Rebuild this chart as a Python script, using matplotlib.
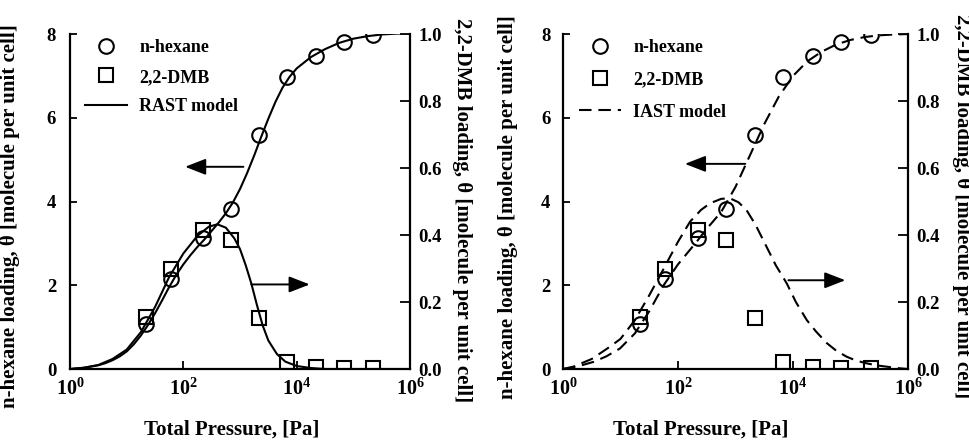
import numpy as np
import matplotlib
matplotlib.use("Agg")
import matplotlib.pyplot as plt
from matplotlib.ticker import FixedLocator, NullLocator

plt.rcParams['font.family'] = ['Liberation Serif', 'DejaVu Serif']
plt.rcParams['font.weight'] = 'bold'
plt.rcParams['mathtext.fontset'] = 'custom'
plt.rcParams['mathtext.rm'] = 'Liberation Serif:bold'
plt.rcParams['mathtext.bf'] = 'Liberation Serif:bold'
plt.rcParams['mathtext.it'] = 'Liberation Serif:bold:italic'

# measured points (same in both panels)
pressure = [22, 60, 220, 690, 2200, 6800, 22000, 68000, 225000]
hexane = [1.07, 2.15, 3.12, 3.82, 5.6, 6.97, 7.47, 7.82, 7.97]
dmb = [0.155, 0.30, 0.415, 0.385, 0.152, 0.021, 0.007, 0.003, 0.002]

# model curves, x given as log10(P)
rast_hex_logp = [0, 0.25, 0.5, 0.625, 0.75, 0.875, 1.0, 1.125, 1.25, 1.375, 1.5, 1.625,
                 1.75, 1.875, 2.0, 2.125, 2.25, 2.375, 2.5, 2.625, 2.75, 2.875, 3.0,
                 3.125, 3.25, 3.375, 3.5, 3.625, 3.75, 3.875, 4.0, 4.25, 4.5, 4.75,
                 5.0, 5.25, 5.5, 5.75, 6.0]
rast_hex = [0.0, 0.03, 0.09, 0.14, 0.21, 0.3, 0.42, 0.59, 0.8, 1.05, 1.33, 1.64,
            1.96, 2.25, 2.5, 2.72, 2.92, 3.1, 3.3, 3.5, 3.72, 3.98, 4.3,
            4.68, 5.1, 5.55, 5.98, 6.38, 6.72, 6.98, 7.18, 7.45, 7.64, 7.79,
            7.89, 7.95, 7.99, 8.01, 8.02]

rast_dmb_logp = [0, 0.25, 0.5, 0.75, 1.0, 1.25, 1.5, 1.75, 2.0, 2.25, 2.45, 2.6, 2.75,
                 2.9, 3.0, 3.1, 3.2, 3.3, 3.4, 3.5, 3.65, 3.8, 4.0, 4.25, 4.5, 5.0, 6.0]
rast_dmb = [0.0, 0.004, 0.012, 0.03, 0.058, 0.11, 0.185, 0.275, 0.345, 0.398, 0.425, 0.432,
            0.422, 0.39, 0.358, 0.31, 0.255, 0.19, 0.13, 0.085, 0.045, 0.022, 0.009, 0.003,
            0.0, 0.0, 0.0]

iast_hex_logp = [0, 0.25, 0.53, 0.75, 0.99, 1.25, 1.5, 1.75, 2.0, 2.33, 2.5, 2.75, 3.0,
                 3.25, 3.5, 3.75, 4.0, 4.25, 4.5, 4.75, 5.0, 5.25, 5.5, 5.75, 6.0]
iast_hex = [0.0, 0.06, 0.17, 0.3, 0.49, 0.85, 1.38, 2.0, 2.5, 3.05, 3.35, 3.75, 4.35,
            5.1, 5.85, 6.5, 7.0, 7.35, 7.58, 7.75, 7.86, 7.93, 7.97, 7.99, 8.0]

iast_dmb_logp = [0, 0.18, 0.5, 0.82, 1.0, 1.25, 1.5, 1.74, 2.0, 2.21, 2.4, 2.56, 2.75,
                 2.9, 3.05, 3.19, 3.35, 3.54, 3.7, 3.89, 4.05, 4.24, 4.4, 4.59, 4.75,
                 4.93, 5.1, 5.28, 5.45, 5.63, 5.8, 6.0]
iast_dmb = [0.0, 0.007, 0.03, 0.067, 0.09, 0.146, 0.22, 0.296, 0.38, 0.44, 0.475, 0.495,
            0.508, 0.51, 0.498, 0.475, 0.43, 0.365, 0.31, 0.256, 0.2, 0.146, 0.112, 0.077,
            0.055, 0.037, 0.025, 0.017, 0.011, 0.007, 0.003, 0.0]

xtick_vals = [1, 1e2, 1e4, 1e6]
xtick_labels = [r'$10^{0}$', r'$10^{2}$', r'$10^{4}$', r'$10^{6}$']

fig = plt.figure(figsize=(9.7, 4.46), dpi=100)

panels = [
    dict(rect=[0.0722, 0.1726, 0.3505, 0.751], model='RAST model', dashes=None,
         hx=rast_hex_logp, hy=rast_hex, dx=rast_dmb_logp, dy=rast_dmb,
         arrows=[(10**3.06, 4.83, 10**2.03, 4.83), (10**3.2, 2.02, 10**4.23, 2.02)],
         ylab_l=(-0.147, 0.457), ylab_r=(1.153, 0.475), xlab=(0.476, -0.15),
         lpad=10, leg=0.045, spacing=0.7),
    dict(rect=[0.5804, 0.1726, 0.3557, 0.751], model='IAST model', dashes=(6, 3.3),
         hx=iast_hex_logp, hy=iast_hex, dx=iast_dmb_logp, dy=iast_dmb,
         arrows=[(10**3.17, 4.9, 10**2.12, 4.9), (10**3.92, 2.12, 10**4.91, 2.12)],
         ylab_l=(-0.130, 0.484), ylab_r=(1.157, 0.487), xlab=(0.40, -0.15),
         lpad=9, leg=0.047, spacing=0.85),
]

for p in panels:
    ax = fig.add_axes(p['rect'])
    ax2 = ax.twinx()

    ls = dict(color='black', lw=1.5)
    if p['dashes'] is not None:
        ls['dashes'] = p['dashes']
    line, = ax.plot(10**np.array(p['hx']), p['hy'], **ls)
    ax2.plot(10**np.array(p['dx']), p['dy'], **ls)

    circ, = ax.plot(pressure, hexane, 'o', ms=10.5, mfc='none', mec='black', mew=1.5)
    sq, = ax2.plot(pressure, dmb, 's', ms=10, mfc='none', mec='black', mew=1.5)

    ax.set_xscale('log')
    ax.set_xlim(1, 1e6)
    ax.set_ylim(0, 8)
    ax2.set_ylim(0, 1.0)
    ax.xaxis.set_major_locator(FixedLocator(xtick_vals))
    ax.xaxis.set_minor_locator(NullLocator())
    ax.set_xticklabels(xtick_labels)
    ax.set_yticks([0, 2, 4, 6, 8])
    ax2.set_yticks([0.0, 0.2, 0.4, 0.6, 0.8, 1.0])
    ax2.set_yticklabels(['0.0', '0.2', '0.4', '0.6', '0.8', '1.0'])

    for s in ['top', 'right']:
        ax.spines[s].set_visible(False)
    for s in ['top', 'left', 'bottom']:
        ax2.spines[s].set_visible(False)
    for a in (ax, ax2):
        for s in a.spines.values():
            s.set_linewidth(1.6)

    ax.tick_params(axis='x', direction='in', length=6, width=1.3, labelsize=14.5, pad=7)
    ax.tick_params(axis='y', direction='in', length=5, width=1.3, labelsize=13.5, pad=p['lpad'])
    ax2.tick_params(axis='y', direction='in', length=7, width=1.3, labelsize=13.5, pad=6)

    ax.set_xlabel('Total Pressure, [Pa]', fontsize=15, fontweight='bold')
    ax.xaxis.set_label_coords(*p['xlab'])
    ax.set_ylabel('n-hexane loading, θ [molecule per unit cell]', fontsize=15, fontweight='bold')
    ax.yaxis.set_label_coords(*p['ylab_l'])
    ax2.set_ylabel('2,2-DMB loading, θ [molecule per unit cell]', fontsize=15,
                   fontweight='bold', rotation=270, va='center')
    ax2.yaxis.set_label_coords(*p['ylab_r'])

    for x0, y0, x1, y1 in p['arrows']:
        ax.annotate('', xy=(x1, y1), xytext=(x0, y0),
                    arrowprops=dict(arrowstyle='-|>,head_length=0.9,head_width=0.35',
                                    color='black', lw=1.4, mutation_scale=14,
                                    shrinkA=0, shrinkB=0))

    ax2.legend([circ, sq, line], ['n-hexane', '2,2-DMB', p['model']],
               loc='upper left', bbox_to_anchor=(p['leg'], 0.985), frameon=False,
               borderpad=0, borderaxespad=0, handlelength=2.3, handletextpad=0.7,
               labelspacing=p['spacing'], prop=dict(family='Liberation Serif',
                                                    weight='bold', size=13))

fig.savefig('out.png', dpi=100)
